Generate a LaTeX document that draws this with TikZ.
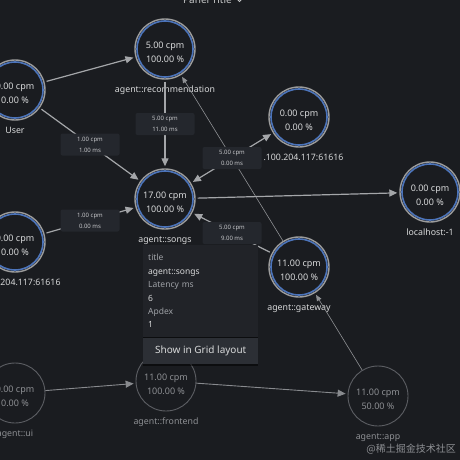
\documentclass[tikz,border=0pt]{standalone}
\usepackage{fontspec}
\setmainfont{Noto Sans}
\newfontfamily\cjk{Noto Sans CJK SC}
\usetikzlibrary{arrows.meta,positioning,shadows}
\definecolor{bgc}{HTML}{1A1C20}
\definecolor{ring}{HTML}{9C9C9C}
\definecolor{okblue}{HTML}{4C74BA}
\definecolor{txt}{HTML}{D8D9DA}
\definecolor{dimc}{HTML}{5C5E63}
\definecolor{dimtxt}{HTML}{8D8F93}
\definecolor{edgec}{HTML}{A4A6A9}
\definecolor{boxc}{HTML}{24272D}
\definecolor{boxtxt}{HTML}{C5C6C9}
\definecolor{tipbg}{HTML}{212328}
\definecolor{tipbtn}{HTML}{2C2F35}
\definecolor{keyc}{HTML}{9FA2A7}
\newcommand{\stat}[2]{\rule{0pt}{13pt}#1 cpm\\#2 \%}

\begin{document}
\begin{tikzpicture}[x=1pt,y=-1pt,>={Triangle[length=8pt,width=7pt]},
 svc/.style={circle,draw=ring,line width=1.4pt,minimum size=60pt,inner sep=0pt,align=center,text=txt,font=\fontsize{9}{14}\selectfont,
  path picture={\draw[okblue,line width=1.6pt] (path picture bounding box.center) circle (28pt);}},
 idle/.style={circle,draw=dimc,line width=0.9pt,minimum size=60pt,inner sep=0pt,align=center,text=dimtxt,font=\fontsize{9}{14}\selectfont},
 tag/.style={text=txt,font=\fontsize{8.8}{10}\selectfont,inner sep=1pt,text height=7pt,text depth=2pt},
 dimtag/.style={tag,text=dimtxt},
 flow/.style={->,draw=edgec,line width=1.2pt,shorten >=2pt,shorten <=2pt},
 faint/.style={-{Triangle[length=6pt,width=5pt]},draw=edgec!85!bgc,line width=0.6pt,shorten >=2pt},
 dimflow/.style={->,draw=edgec!80!bgc,line width=0.9pt,shorten >=2pt},
 ebox/.style={fill=boxc,rounded corners=2pt,text=boxtxt,font=\fontsize{6}{11}\selectfont,align=center,minimum width=59pt,minimum height=22pt,inner sep=2pt},
 tipbody/.style={fill=tipbg,minimum width=115pt,text width=105pt,inner xsep=5pt,minimum height=92pt,align=left,text=keyc,font=\fontsize{8.5}{13.4}\selectfont,drop shadow={shadow xshift=0pt,shadow yshift=-2pt,opacity=.5,fill=black}},
 tipbutton/.style={fill=tipbtn,minimum width=115pt,minimum height=26pt,inner sep=0pt,text=txt,font=\fontsize{10}{12}\selectfont,drop shadow={shadow xshift=0pt,shadow yshift=-2pt,opacity=.5,fill=black}}]
\path[use as bounding box,clip] (0,0) rectangle (460,460);
\fill[bgc] (0,0) rectangle (460,460);
\node[text=txt!90!bgc,font=\fontsize{10}{12}\selectfont,anchor=base,inner sep=0pt] (title) at (207.5,4) {Panel Title};
\draw[txt!90!bgc,line width=0.8pt] ([shift={(5,-5)}]title.base east) -- ++(2.5,2.5) -- ++(2.5,-2.5);
\node[svc] (rec) at (165,49) {\stat{5.00}{100.00}};
\node[svc] (user) at (15,90) {\stat{0.00}{0.00}};
\node[svc] (songs) at (165,199) {\stat{17.00}{100.00}};
\node[svc] (ipa) at (299,117) {\stat{0.00}{0.00}};
\node[svc] (ipb) at (15,242) {\stat{0.00}{0.00}};
\node[svc] (local) at (430,192) {\stat{0.00}{0.00}};
\node[svc] (gate) at (299,267) {\stat{11.00}{100.00}};
\node[idle] (ui) at (15,393) {\stat{0.00}{0.00}};
\node[idle] (front) at (166,381) {\stat{11.00}{100.00}};
\node[idle] (app) at (378,396) {\stat{11.00}{50.00}};
\node[tag,below=5pt of rec] (rec-l) {agent::recommendation};
\node[tag,below=5pt of user] (user-l) {User};
\node[tag,below=5pt of songs] (songs-l) {agent::songs};
\node[tag,below=5pt of ipa,xshift=4.5pt] (ipa-l) {.100.204.117:61616};
\node[tag,below=5pt of ipb,xshift=15.5pt] (ipb-l) {204.117:61616};
\node[tag,below=5pt of local] (local-l) {localhost:-1};
\node[tag,below=5pt of gate] (gate-l) {agent::gateway};
\node[dimtag,below=5pt of ui] (ui-l) {agent::ui};
\node[dimtag,below=5pt of front] (front-l) {agent::frontend};
\node[dimtag,below=5pt of app] (app-l) {agent::app};
\draw[faint] (gate) -- (rec);
\draw[faint] (app) -- (gate);
\draw[flow] (user) -- (rec);
\draw[flow] (user) -- node[ebox] (e1) {1.00 cpm\\1.00 ms} (songs);
\draw[flow] (rec) -- node[ebox] (e2) {5.00 cpm\\11.00 ms} (songs);
\draw[flow] (ipb) -- node[ebox] (e3) {1.00 cpm\\0.00 ms} (songs);
\draw[flow,<->] (songs) -- node[ebox] (e4) {5.00 cpm\\0.00 ms} (ipa);
\draw[flow] (songs) -- (local);
\draw[flow] (gate) -- node[ebox] (e5) {5.00 cpm\\9.00 ms} (songs);
\draw[dimflow] (ui) -- (front);
\draw[dimflow] (front) -- (app);
\node[tipbody,anchor=north west] (tip) at (143,245) {title\\\textcolor{txt}{\textbf{agent::songs}}\\Latency ms\\\textcolor{txt}{\textbf{6}}\\Apdex\\\textcolor{txt}{\textbf{1}}};
\node[tipbutton,below=0pt of tip] (grid) {Show in Grid layout};
\node[text=dimtxt,font=\cjk\fontsize{10}{12}\selectfont,anchor=east,inner sep=0pt] (mark) at (456,449) {@稀土掘金技术社区};
\end{tikzpicture}
\end{document}
